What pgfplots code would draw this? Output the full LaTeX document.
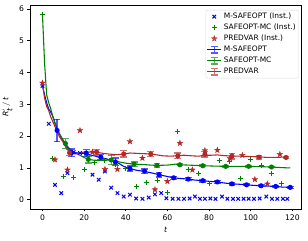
\documentclass[border=0pt]{standalone}
\usepackage{fontspec}
\setmainfont{DejaVu Sans}
\usepackage{pgfplots}
\pgfplotsset{compat=1.18}
\usepackage{pgfplotstable}
\usetikzlibrary{plotmarks}
\definecolor{mblue}{rgb}{0,0,1}
\definecolor{mgreen}{rgb}{0,0.5,0}
\definecolor{mred}{RGB}{180,40,40}
\pgfdeclareplotmark{fstar}{%
 \pgfpathmoveto{\pgfpointpolar{90}{\pgfplotmarksize}}%
 \pgfpathlineto{\pgfpointpolar{126}{0.4\pgfplotmarksize}}%
 \pgfpathlineto{\pgfpointpolar{162}{\pgfplotmarksize}}%
 \pgfpathlineto{\pgfpointpolar{198}{0.4\pgfplotmarksize}}%
 \pgfpathlineto{\pgfpointpolar{234}{\pgfplotmarksize}}%
 \pgfpathlineto{\pgfpointpolar{270}{0.4\pgfplotmarksize}}%
 \pgfpathlineto{\pgfpointpolar{306}{\pgfplotmarksize}}%
 \pgfpathlineto{\pgfpointpolar{342}{0.4\pgfplotmarksize}}%
 \pgfpathlineto{\pgfpointpolar{18}{\pgfplotmarksize}}%
 \pgfpathlineto{\pgfpointpolar{54}{0.4\pgfplotmarksize}}%
 \pgfpathclose\pgfusepathqfillstroke}

\pgfplotsset{
  errleg/.style={legend image code/.code={
    \draw[##1, line width=1.08bp] (0bp,0bp) -- (14bp,0bp);
    \draw[##1, line width=1.3bp, opacity=0.65] (7bp,-3.4bp) -- (7bp,3.4bp) (3.6bp,-3.4bp) -- (10.4bp,-3.4bp) (3.6bp,3.4bp) -- (10.4bp,3.4bp);}},
  ptleg/.style={legend image code/.code={\draw[##1] plot coordinates {(7bp,0bp)};}},
}

\pgfplotstableread{
t y
0 3.58
3 2.39
6 0.47
9 0.21
12 0.84
15 1.50
18 1.47
21 1.45
24 0.79
27 0.63
30 0.89
33 0.38
36 0.21
39 0.10
42 0.16
45 0.04
48 0.03
51 0.07
54 0.17
57 0.21
59.5 0.05
62.5 0.03
65.3 0.03
68 0.03
70.7 0.04
73.2 0.10
75.6 0.03
78 0.03
80.6 0.04
83.1 0.03
86.2 0.10
88.8 0.03
91.5 0.03
94 0.03
96.6 0.03
99 0.03
101.6 0.03
104.3 0.04
107.5 0.10
110.2 0.03
112.8 0.03
115.5 0.03
117.6 0.03
}\blueinst

\pgfplotstableread{
t y
0 5.82
5 1.29
10 0.73
15 0.70
20 0.95
25 1.17
30 1.25
35 1.10
40 0.98
45 0.41
50 0.54
55 0.61
60 0.23
65 2.16
70 0.94
75 0.83
80 0.50
85 1.22
90 1.20
95 0.68
100 1.28
105 1.08
110 0.82
115 0.50
}\greeninst

\pgfplotstableread{
t y
0 3.67
6 1.26
12 0.94
18 2.18
24 1.50
30 0.96
36 0.96
42 1.83
48 1.31
54 0.32
60 0.58
66 1.78
72 0.94
78 1.55
84 1.56
90 1.30
96 1.40
102 0.64
108 0.50
114 1.43
}\redinst

\pgfplotstableread{
t y
0 3.58
1 3.30
2 3.05
3 2.85
4 2.75
5 2.62
6 2.42
7 2.20
8 2.08
9 1.95
10 1.85
11 1.75
12 1.65
13 1.58
14 1.52
15 1.50
16 1.48
17 1.47
18 1.47
19 1.46
20 1.46
21 1.45
22 1.43
23 1.41
24 1.39
25 1.38
26 1.36
27 1.34
28 1.33
29 1.31
30 1.30
31 1.28
32 1.26
33 1.24
34 1.22
35 1.20
36 1.17
37 1.13
38 1.09
39 1.05
40 1.02
41 1.00
42 0.98
45 0.93
49 0.89
52 0.85
56 0.79
60 0.73
63 0.69
66 0.67
70 0.65
73 0.62
77 0.60
80 0.58
84 0.56
87 0.53
91 0.50
94 0.49
98 0.47
101 0.455
105 0.44
108 0.43
112 0.42
115 0.40
119 0.39
}\blueline

\pgfplotstableread{
t y e
7 2.18 0.35
14 1.48 0.12
21 1.47 0.11
28 1.34 0.08
35 1.19 0.12
42 0.98 0.08
49 0.90 0.07
56 0.79 0.07
63 0.69 0.05
70 0.65 0.05
77 0.60 0.04
84 0.56 0.04
91 0.50 0.035
98 0.47 0.03
105 0.44 0.03
112 0.42 0.03
119 0.39 0.03
}\blueerr

\pgfplotstableread{
t y
0 5.80
1 4.30
1.5 3.80
2 3.30
3 3.05
4 2.85
5 2.60
6 2.40
7 2.25
8 2.10
9 1.98
10 1.87
11 1.77
12 1.68
13 1.60
14 1.55
15 1.50
16 1.46
18 1.40
20 1.33
22 1.27
24 1.25
26 1.24
28 1.24
30 1.25
33 1.25
36 1.20
40 1.15
44 1.12
48 1.11
52 1.09
55 1.08
60 1.09
64 1.12
66 1.10
70 1.09
77 1.07
82 1.06
88 1.05
94 1.05
99 1.05
105 1.04
110 1.03
115 1.01
119 1.00
}\greenline

\pgfplotstableread{
t y e
11 1.77 0.15
22 1.27 0.11
33 1.25 0.15
44 1.12 0.07
55 1.08 0.05
66 1.10 0.03
77 1.07 0.03
88 1.05 0.03
99 1.05 0.025
110 1.03 0.025
}\greenerr

\pgfplotstableread{
t y
0 3.65
1 3.20
2 2.93
3 2.80
4 2.60
5 2.45
6 2.30
7 2.15
8 2.00
9 1.90
10 1.80
11 1.68
12 1.58
13 1.50
14 1.47
15 1.45
16 1.44
18 1.48
20 1.50
22 1.50
24 1.50
26 1.50
28 1.47
30 1.45
33 1.43
36 1.42
39 1.43
42 1.47
45 1.46
48 1.45
52 1.44
55 1.41
58 1.38
62 1.37
65 1.39
68 1.40
72 1.38
75 1.37
78 1.40
81 1.40
84 1.41
87 1.39
91 1.37
95 1.37
99 1.36
104 1.35
108 1.33
112 1.33
115 1.34
118 1.33
}\redline

\pgfplotstableread{
t y e
13 1.48 0.09
26 1.50 0.09
39 1.44 0.10
52 1.44 0.08
65 1.38 0.09
78 1.43 0.09
91 1.37 0.09
104 1.34 0.06
117 1.33 0.04
}\rederr

\begin{document}
\begin{tikzpicture}
\begin{axis}[
  scale only axis,
  width=271.7bp, height=203.3bp,
  xmin=-6, xmax=124.5,
  ymin=-0.29, ymax=6.1,
  xtick={0,20,40,60,80,100,120},
  ytick={0,1,2,3,4,5,6},
  xtick pos=bottom, ytick pos=left,
  tick align=outside,
  major tick length=2.5bp,
  every tick/.style={black, line width=0.58bp},
  axis line style={black, line width=0.58bp},
  /pgf/number format/assume math mode=true,
  tick label style={font=\fontsize{7.7}{9}\selectfont},
  label style={font=\fontsize{7.7}{9}\selectfont},
  xlabel={\textit{t}},
  ylabel={$\textit{R}^{\prime}_{\textit{t}}\,/\,\textit{t}$},
  xlabel style={yshift=1bp},
  legend cell align=left,
  legend style={at={(rel axis cs:0.99,0.979)}, anchor=north east,
    draw=black!15, rounded corners=2bp, fill=white, fill opacity=0.8, text opacity=1,
    font=\fontsize{7.5}{8.5}\selectfont,
    nodes={inner ysep=1.6bp, inner xsep=2bp, text height=6bp, text depth=1.8bp},
    inner xsep=1bp, inner ysep=1bp},
  every axis plot/.append style={line width=1.08bp},
]
\addplot[only marks, mark=x, mark size=2.5bp, mblue, line width=1bp, ptleg]
  table[x=t,y=y]{\blueinst};
\addlegendentry{M-SAFEOPT (Inst.)}
\addplot[only marks, mark=+, mark size=2.5bp, mgreen, line width=1bp, ptleg]
  table[x=t,y=y]{\greeninst};
\addlegendentry{SAFEOPT-MC (Inst.)}
\addplot[only marks, mark=fstar, mark size=3bp, mred, line width=0.3bp, ptleg]
  table[x=t,y=y]{\redinst};
\addlegendentry{PREDVAR (Inst.)}

\addplot[mblue, no marks, errleg] table[x=t,y=y]{\blueline};
\addlegendentry{M-SAFEOPT}
\addplot[mgreen, no marks, errleg] table[x=t,y=y]{\greenline};
\addlegendentry{SAFEOPT-MC}
\addplot[mred, no marks, errleg] table[x=t,y=y]{\redline};
\addlegendentry{PREDVAR}

\addplot[forget plot, only marks, mark=none, mblue,
  error bars/.cd, y dir=both, y explicit,
  error bar style={line width=1.3bp, mblue, opacity=0.65},
  error mark options={rotate=90, mblue, opacity=0.65, mark size=3.4bp, line width=1.3bp}]
  table[x=t,y=y,y error=e]{\blueerr};
\addplot[forget plot, only marks, mark=none, mgreen,
  error bars/.cd, y dir=both, y explicit,
  error bar style={line width=1.3bp, mgreen, opacity=0.65},
  error mark options={rotate=90, mgreen, opacity=0.65, mark size=3.4bp, line width=1.3bp}]
  table[x=t,y=y,y error=e]{\greenerr};
\addplot[forget plot, only marks, mark=none, mred,
  error bars/.cd, y dir=both, y explicit,
  error bar style={line width=1.3bp, mred, opacity=0.65},
  error mark options={rotate=90, mred, opacity=0.65, mark size=3.4bp, line width=1.3bp}]
  table[x=t,y=y,y error=e]{\rederr};
\end{axis}
\pgfresetboundingbox
\path (current axis.south west) ++(-30bp,-32bp) rectangle ++(308bp,241bp);
\end{tikzpicture}
\end{document}
